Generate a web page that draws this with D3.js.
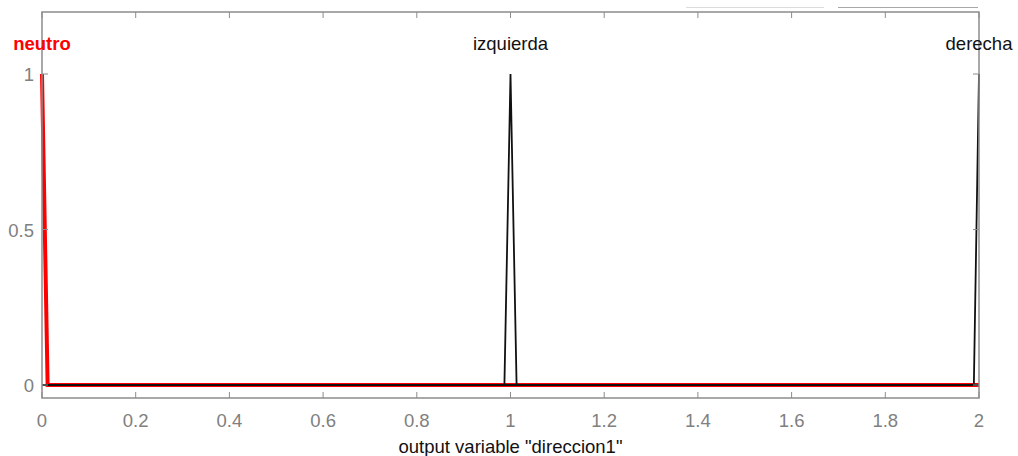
<!DOCTYPE html>
<html><head><meta charset="utf-8">
<script src="https://cdn.jsdelivr.net/npm/d3@7"></script>
<style>body{margin:0;background:#fff;} text{font-family:"Liberation Sans",Arial,sans-serif;}</style>
</head><body>
<svg id="c" width="1018" height="456"></svg>
<script>
const xTicks = [0,0.2,0.4,0.6,0.8,1,1.2,1.4,1.6,1.8,2];
const yTicks = [0,0.5,1];
const mfNames = ["neutro","izquierda","derecha"];
const mfPeaks = [0,1,2];
const neutroX = [0,0.012,2];
const neutroY = [1,0,0];
const izqX = [0,0.987,1,1.013,2];
const izqY = [0,0,1,0,0];
const derX = [0,1.989,2];
const derY = [0,0,1];

(function(){
const svg = d3.select("#c");
const x = d3.scaleLinear().domain([0,2]).range([42,979]);
const y = d3.scaleLinear().domain([0,1]).range([385,74]);
const boxTop = 12, boxBottom = 398;
const axisCol = "#8c8c8c";

svg.append("line").attr("x1",686).attr("x2",824).attr("y1",7.5).attr("y2",7.5).attr("stroke","#dcdcdc").attr("stroke-width",1);
svg.append("line").attr("x1",838).attr("x2",978).attr("y1",7.5).attr("y2",7.5).attr("stroke","#a8a8a8").attr("stroke-width",1);

const line = d3.line().x(d=>x(d[0])).y(d=>y(d[1]));
const pts = (xs,ys)=>xs.map((v,i)=>[v,ys[i]]);

// black neutro (under red), selected neutro in red, then other MFs in black
svg.append("path").attr("d",line(pts(neutroX,neutroY))).attr("fill","none").attr("stroke","#111").attr("stroke-width",1.8);
svg.append("path").attr("d",line(pts(neutroX,neutroY))).attr("fill","none").attr("stroke","#ff0000").attr("stroke-width",4);
[[izqX,izqY],[derX,derY]].forEach(([xs,ys])=>{
  svg.append("path").attr("d",line(pts(xs,ys))).attr("fill","none").attr("stroke","#111").attr("stroke-width",1.8);
});

svg.append("rect").attr("x",42).attr("y",boxTop).attr("width",979-42).attr("height",boxBottom-boxTop)
  .attr("fill","none").attr("stroke",axisCol).attr("stroke-width",1.5);

xTicks.forEach(t=>{
  svg.append("line").attr("x1",x(t)).attr("x2",x(t)).attr("y1",boxBottom).attr("y2",boxBottom-6).attr("stroke",axisCol);
  svg.append("line").attr("x1",x(t)).attr("x2",x(t)).attr("y1",boxTop).attr("y2",boxTop+6).attr("stroke",axisCol);
  svg.append("text").attr("x",x(t)).attr("y",427).attr("text-anchor","middle").attr("font-size",18.5).attr("fill","#808080").text(d3.format("~g")(t));
});
yTicks.forEach(t=>{
  svg.append("line").attr("x1",42).attr("x2",48).attr("y1",y(t)).attr("y2",y(t)).attr("stroke",axisCol);
  svg.append("line").attr("x1",979).attr("x2",973).attr("y1",y(t)).attr("y2",y(t)).attr("stroke",axisCol);
  svg.append("text").attr("x",34).attr("y",y(t)+7).attr("text-anchor","end").attr("font-size",18.5).attr("fill","#808080").text(d3.format("~g")(t));
});

mfNames.forEach((n,i)=>{
  svg.append("text").attr("x",x(mfPeaks[i])).attr("y",50).attr("text-anchor","middle").attr("font-size",18.5)
    .attr("fill",i===0?"#ff0000":"#111").attr("font-weight",i===0?"bold":"normal").text(n);
});

svg.append("text").attr("x",x(1)).attr("y",453).attr("text-anchor","middle").attr("font-size",18.5).attr("fill","#111").text('output variable "direccion1"');
})();
</script>
</body></html>
